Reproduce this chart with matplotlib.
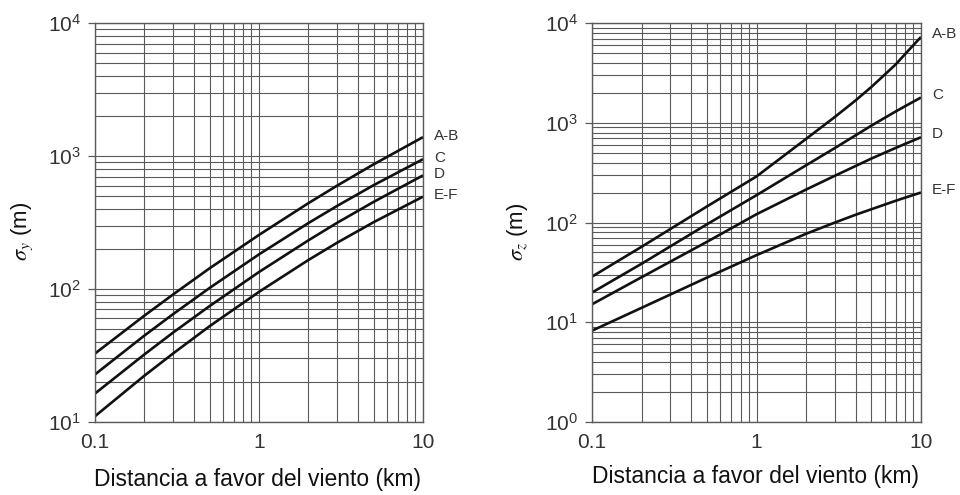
import matplotlib
matplotlib.use("Agg")
import matplotlib.pyplot as plt
from matplotlib.ticker import LogLocator, NullFormatter, FixedLocator, FixedFormatter

plt.rcParams['font.family'] = ['Liberation Sans', 'DejaVu Sans']
plt.rcParams['mathtext.fontset'] = 'stix'
plt.rcParams['mathtext.default'] = 'regular'

# distances (km)
dist = [0.1, 0.2, 0.3, 0.5, 1, 2, 3, 5, 10]
dist_z = [0.1, 0.2, 0.5, 1, 2, 3, 4, 5, 7, 8, 10]

# sigma_y (m)
sy_AB = [32.6, 62.9, 91, 143, 255, 442, 600, 867, 1390]
sy_C = [22.7, 44.5, 64.7, 101.7, 182, 313, 422, 604, 948]
sy_D = [16.3, 32.1, 47, 74.3, 134, 232, 315, 452, 716]
sy_EF = [11, 22.2, 32.7, 52.4, 95, 165, 223, 318, 495]

# sigma_z (m)
sz_AB = [28.6, 57, 145, 290, 690, 1150, 1680, 2300, 3850, 4900, 7300]
sz_C = [19.8, 38.5, 96, 188, 375, 560, 750, 940, 1300, 1470, 1800]
sz_D = [15.1, 28.2, 64, 121, 214, 295, 369, 439, 560, 615, 718]
sz_EF = [8.2, 13.9, 28, 47, 77, 100, 119.5, 136, 165, 177.6, 200]

classes = ['A-B', 'C', 'D', 'E-F']
xticks = [0.1, 1, 10]
xticklabels = ['0.1', '1', '10']

fig = plt.figure(figsize=(9.6, 4.95), dpi=100)
W, H = 960, 495
axL = fig.add_axes([95 / W, 1 - 421.7 / H, (423 - 95) / W, (421.7 - 23.3) / H])
axR = fig.add_axes([592 / W, 1 - 421.7 / H, (921 - 592) / W, (421.7 - 23.3) / H])

grid_col = '#5a5a5a'


def style(ax, ylim):
    ax.set_xscale('log')
    ax.set_yscale('log')
    ax.set_xlim(0.1, 10)
    ax.set_ylim(*ylim)
    ax.xaxis.set_major_locator(FixedLocator(xticks))
    ax.xaxis.set_major_formatter(FixedFormatter(xticklabels))
    ax.xaxis.set_minor_locator(LogLocator(base=10, subs=range(2, 10), numticks=20))
    ax.xaxis.set_minor_formatter(NullFormatter())
    ax.yaxis.set_major_locator(LogLocator(base=10, numticks=10))
    ax.yaxis.set_minor_locator(LogLocator(base=10, subs=range(2, 10), numticks=20))
    ax.yaxis.set_minor_formatter(NullFormatter())
    ax.grid(True, which='both', color=grid_col, lw=0.8)
    ax.set_axisbelow(True)
    ax.tick_params(axis='y', which='major', length=5, width=0.9, color=grid_col,
                   labelsize=15, labelcolor='#333333', pad=5)
    ax.tick_params(axis='x', which='major', length=0, labelsize=15,
                   labelcolor='#333333', pad=8)
    ax.tick_params(which='minor', length=0)
    for s in ax.spines.values():
        s.set_color(grid_col)
        s.set_linewidth(1.0)


style(axL, (10, 1e4))
style(axR, (1, 1e4))

for ys, lab in zip([sy_AB, sy_C, sy_D, sy_EF], classes):
    axL.plot(dist, ys, color='#111111', lw=1.9, solid_capstyle='butt',
             solid_joinstyle='round')
    axL.annotate(lab, xy=(dist[-1], ys[-1]), xytext=(8, 1), textcoords='offset points',
                 ha='left', va='center', fontsize=11, color='#333333',
                 annotation_clip=False)

for zs, lab in zip([sz_AB, sz_C, sz_D, sz_EF], classes):
    axR.plot(dist_z, zs, color='#111111', lw=1.9, solid_capstyle='butt',
             solid_joinstyle='round')
    axR.annotate(lab, xy=(dist_z[-1], zs[-1]), xytext=(8, 2), textcoords='offset points',
                 ha='left', va='center', fontsize=11, color='#333333',
                 annotation_clip=False)

fig.text(258 / W, 1 - 486 / H, 'Distancia a favor del viento (km)', ha='center',
         va='baseline', fontsize=16.5, color='#111111')
fig.text(756 / W, 1 - 482.7 / H, 'Distancia a favor del viento (km)', ha='center',
         va='baseline', fontsize=16.5, color='#111111')
fig.text(22 / W, 1 - 231 / H, r'$\it{\sigma_y}$ (m)', rotation=90, ha='center',
         va='center', fontsize=16, color='#111111')
fig.text(518 / W, 1 - 232 / H, r'$\it{\sigma_z}$ (m)', rotation=90, ha='center',
         va='center', fontsize=16, color='#111111')

fig.savefig('out.png', dpi=100)
